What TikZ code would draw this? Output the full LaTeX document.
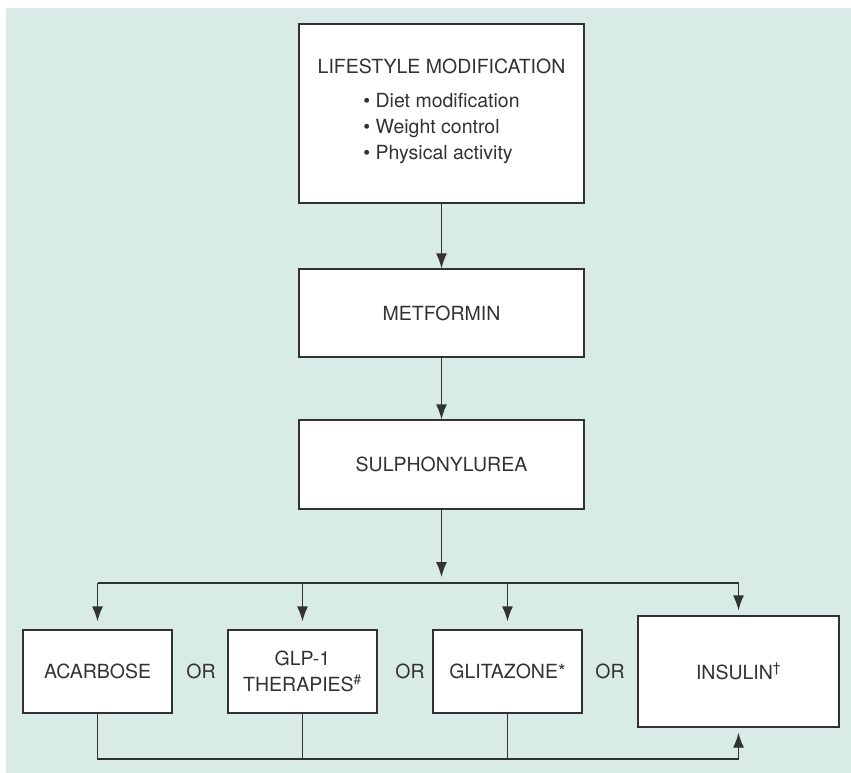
\documentclass[tikz,border=0pt]{standalone}
\usepackage{fontspec}
\setmainfont{TeX Gyre Heros}
\usetikzlibrary{arrows.meta}

\definecolor{panel}{RGB}{217,235,230}
\definecolor{ink}{RGB}{50,50,50}

\begin{document}
\begin{tikzpicture}
  [x=1pt,y=-1pt,
   box/.style={draw=ink,fill=white,line width=1.3pt,inner sep=0pt,align=center,
     text=ink,font=\fontsize{19.5}{26}\selectfont},
   word/.style={text=ink,inner sep=0pt,font=\fontsize{19.5}{26}\selectfont},
   link/.style={draw=ink,line width=1.3pt},
   arrowed/.style={link,-{Latex[length=15pt,width=11pt]}}]
  \useasboundingbox (0,0) rectangle (851,773);
  \fill[panel] (6,8) rectangle (851,773);

  \node[box,minimum width=285pt,minimum height=179pt] (life) at (441.5,113.5)
    {LIFESTYLE MODIFICATION\\[8pt]
     \begin{tabular}[t]{@{}l@{}}
       \textbullet\ Diet modification\\
       \textbullet\ Weight control\\
       \textbullet\ Physical activity
     \end{tabular}};
  \node[box,minimum width=285pt,minimum height=88pt] (metf) at (441.5,313) {METFORMIN};
  \node[box,minimum width=285pt,minimum height=89pt] (sulph) at (441.5,464.5) {SULPHONYLUREA};

  \node[box,minimum width=149pt,minimum height=83pt] (acar) at (97.5,671.5) {ACARBOSE};
  \node[box,minimum width=149pt,minimum height=83pt] (glp) at (302.5,671.5)
    {GLP-1\\THERAPIES\textsuperscript{\#}};
  \node[box,minimum width=149pt,minimum height=83pt] (glit) at (507.5,671.5) {GLITAZONE*};
  \node[box,minimum width=201pt,minimum height=111pt] (insl) at (738.5,671.5)
    {INSULIN\textsuperscript{\textdagger}};

  \node[word] (or1) at (201,671.5) {OR};
  \node[word] (or2) at (410,671.5) {OR};
  \node[word] (or3) at (610,671.5) {OR};

  \coordinate (split) at (441.5,583);
  \coordinate (join) at (441.5,759);

  \draw[arrowed] (life) -- (metf);
  \draw[arrowed] (metf) -- (sulph);
  \draw[arrowed,shorten >=6pt] (sulph) -- (split);
  \draw[link] (acar |- split) -- (insl |- split);
  \foreach \n in {acar,glp,glit}
    \draw[arrowed,shorten >=8pt] (\n |- split) -- (\n);
  \draw[arrowed,shorten >=5pt] (insl |- split) -- (insl);

  \draw[link] (acar) |- (insl |- join);
  \foreach \n in {glp,glit}
    \draw[link] (\n) -- (\n |- join);
  \draw[arrowed,shorten >=5pt] (insl |- join) -- (insl);
\end{tikzpicture}
\end{document}
